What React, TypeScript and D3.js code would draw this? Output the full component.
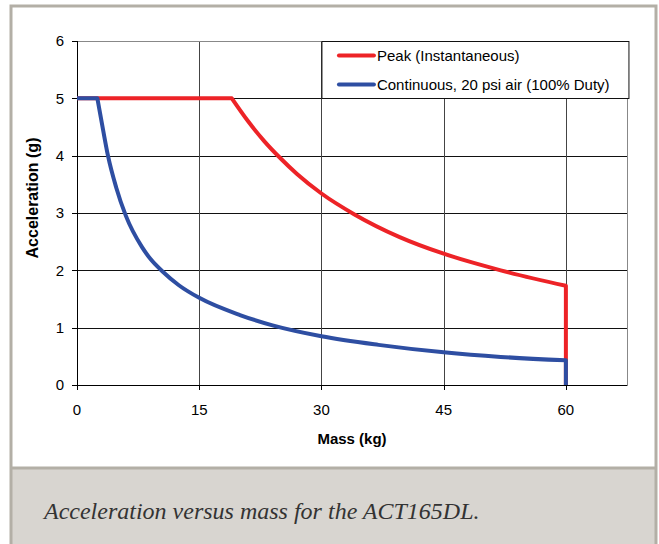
import React from "react";
import * as d3 from "d3";

// series (mass kg, acceleration g)
const peakFlat = [
  { x: 0, y: 5 },
  { x: 19, y: 5 },
];
const peakCurve = [
  { x: 19, y: 5 },
  { x: 21, y: 4.6 },
  { x: 23, y: 4.25 },
  { x: 25, y: 3.95 },
  { x: 27, y: 3.68 },
  { x: 30, y: 3.34 },
  { x: 34, y: 2.98 },
  { x: 39.6, y: 2.58 },
  { x: 45, y: 2.29 },
  { x: 52, y: 2.0 },
  { x: 60, y: 1.73 },
];
const contFlat = [
  { x: 0, y: 5 },
  { x: 2.5, y: 5 },
];
const contCurve = [
  { x: 2.5, y: 5 },
  { x: 3.2, y: 4.45 },
  { x: 3.8, y: 4 },
  { x: 4.8, y: 3.45 },
  { x: 6, y: 2.95 },
  { x: 8, y: 2.4 },
  { x: 9, y: 2.2 },
  { x: 10.5, y: 1.98 },
  { x: 12.5, y: 1.74 },
  { x: 15, y: 1.52 },
  { x: 20, y: 1.22 },
  { x: 24, y: 1.04 },
  { x: 30, y: 0.85 },
  { x: 37, y: 0.7 },
  { x: 45, y: 0.57 },
  { x: 52, y: 0.49 },
  { x: 60, y: 0.43 },
];
const dropMass = 60;

const xTicks = [0, 15, 30, 45, 60];
const yTicks = [0, 1, 2, 3, 4, 5, 6];
const legendLabels = ["Peak (Instantaneous)", "Continuous, 20 psi air (100% Duty)"];
const caption = "Acceleration versus mass for the ACT165DL.";

const RED = "#ed2327";
const BLUE = "#2e4ea2";

export default function App() {
  const width = 659;
  const height = 544;
  const margin = { left: 77, top: 41, right: 32, bottom: 159 };
  const plotW = width - margin.left - margin.right;
  const plotH = height - margin.top - margin.bottom;

  const x = d3.scaleLinear().domain([0, 67.5]).range([0, plotW]);
  const y = d3.scaleLinear().domain([0, 6]).range([plotH, 0]);

  const flat = d3.line<{ x: number; y: number }>().x((d) => x(d.x)).y((d) => y(d.y));
  const curve = d3
    .line<{ x: number; y: number }>()
    .x((d) => x(d.x))
    .y((d) => y(d.y))
    .curve(d3.curveMonotoneX);

  // flat part, then the smooth fall, then the drop to zero at 60 kg
  const seriesPath = (a: { x: number; y: number }[], b: { x: number; y: number }[]) =>
    flat(a) + curve(b)!.replace(/^M/, "L") + `L${x(dropMass)},${y(0)}`;

  const font = "'Liberation Sans', Arial, sans-serif";

  return (
    <svg width={width} height={height} style={{ position: "absolute", left: 0, top: 0 }}>
      {/* frame */}
      <rect x={0} y={0} width={width} height={height} fill="#fff" />
      <rect x={11} y={469} width={644} height={80} fill="#d8d5d0" />
      <rect x={11} y={6} width={645} height={560} fill="none" stroke="#b3afa6" strokeWidth={3} />
      <line x1={11} x2={656} y1={468} y2={468} stroke="#b3afa6" strokeWidth={3} />
      <text x={44} y={519} fontFamily="'Liberation Serif', 'Times New Roman', serif" fontStyle="italic" fontSize={24} fill="#333">
        {caption}
      </text>

      <g transform={`translate(${margin.left},${margin.top})`}>
        {/* gridlines */}
        {yTicks.slice(1).map((t) => (
          <line key={"gy" + t} x1={0} x2={plotW} y1={Math.round(y(t)) + 0.5} y2={Math.round(y(t)) + 0.5} stroke="#111" strokeWidth={1} />
        ))}
        {xTicks.slice(1).map((t) => (
          <line key={"gx" + t} x1={Math.round(x(t)) + 0.5} x2={Math.round(x(t)) + 0.5} y1={0} y2={plotH} stroke="#444" strokeWidth={1} />
        ))}
        <rect x={0.5} y={0.5} width={plotW} height={plotH} fill="none" stroke="#888" strokeWidth={1} />

        {/* axes */}
        <line x1={0.5} x2={0.5} y1={0} y2={plotH} stroke="#000" />
        <line x1={0} x2={plotW} y1={plotH + 0.5} y2={plotH + 0.5} stroke="#000" />
        {yTicks.map((t) => (
          <g key={"yt" + t}>
            <line x1={-5} x2={0} y1={Math.round(y(t)) + 0.5} y2={Math.round(y(t)) + 0.5} stroke="#000" />
            <text x={-13} y={y(t)} dy="0.36em" textAnchor="end" fontFamily={font} fontSize={15} fill="#000">
              {t}
            </text>
          </g>
        ))}
        {xTicks.map((t) => (
          <g key={"xt" + t}>
            <line x1={Math.round(x(t)) + 0.5} x2={Math.round(x(t)) + 0.5} y1={plotH} y2={plotH + 5} stroke="#000" />
            <text x={x(t)} y={plotH + 30} textAnchor="middle" fontFamily={font} fontSize={15} fill="#000">
              {t}
            </text>
          </g>
        ))}

        {/* series */}
        <path d={seriesPath(peakFlat, peakCurve)} fill="none" stroke={RED} strokeWidth={4} strokeLinejoin="round" />
        <path d={seriesPath(contFlat, contCurve)} fill="none" stroke={BLUE} strokeWidth={4} strokeLinejoin="round" />

        {/* legend */}
        <g transform={`translate(${x(30) + 0.5},0.5)`}>
          <rect x={0} y={0} width={307} height={Math.round(y(5))} fill="#fff" stroke="#111" />
          {legendLabels.map((lab, i) => (
            <g key={lab} transform={`translate(0,${14 + i * 29})`}>
              <line x1={17} x2={52} y1={0} y2={0} stroke={i === 0 ? RED : BLUE} strokeWidth={4} strokeLinecap="round" />
              <text x={55} y={0} dy="0.35em" fontFamily={font} fontSize={15} fill="#000">
                {lab}
              </text>
            </g>
          ))}
        </g>
      </g>

      {/* axis titles */}
      <text x={margin.left + plotW / 2} y={444} textAnchor="middle" fontFamily={font} fontWeight="bold" fontSize={15} fill="#000">
        Mass (kg)
      </text>
      <text
        transform={`translate(38,198) rotate(-90)`}
        textAnchor="middle"
        fontFamily={font}
        fontWeight="bold"
        fontSize={16}
        fill="#000"
      >
        Acceleration (g)
      </text>
    </svg>
  );
}
